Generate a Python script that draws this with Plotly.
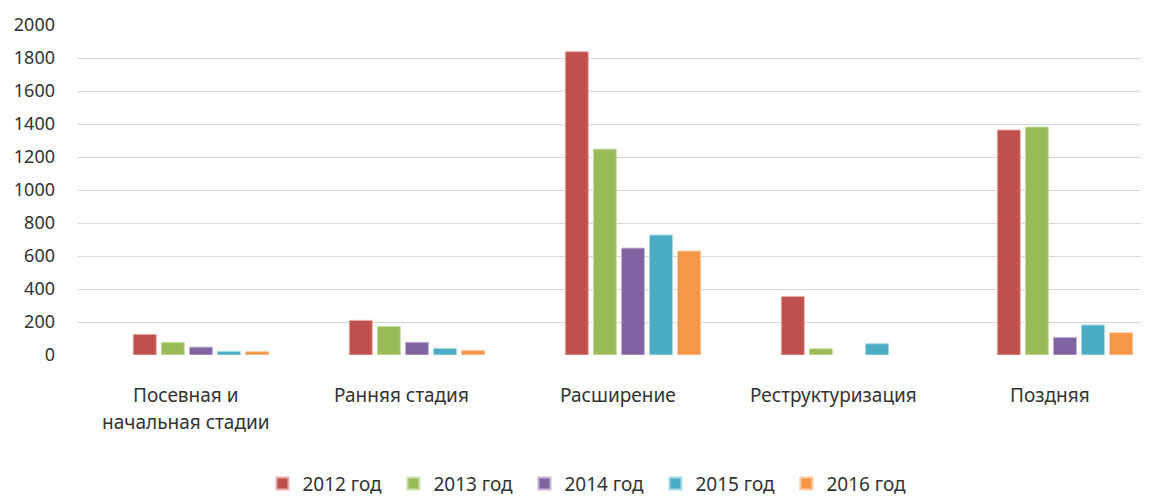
import plotly.graph_objects as go

categories = ["Посевная и\nначальная стадии", "Ранняя стадия", "Расширение", "Реструктуризация", "Поздняя"]
years = ["2012 год", "2013 год", "2014 год", "2015 год", "2016 год"]
v2012 = [125, 210, 1838, 355, 1364]
v2013 = [77, 174, 1248, 38, 1382]
v2014 = [48, 77, 648, None, 107]
v2015 = [22, 40, 727, 68, 182]
v2016 = [20, 28, 630, None, 135]
y_ticks = [0, 200, 400, 600, 800, 1000, 1200, 1400, 1600, 1800, 2000]

series = [v2012, v2013, v2014, v2015, v2016]
colors = ["#C0504D", "#9BBB59", "#8064A2", "#4BACC6", "#F79646"]
edges = ["#E8AEAC", "#CFE0AE", "#C3B5D6", "#A9DAE6", "#FBCBA5"]

x_idx = list(range(len(categories)))

fig = go.Figure()
for name, vals, c, e in zip(years, series, colors, edges):
    fig.add_trace(go.Bar(x=x_idx, y=vals, name=name,
                         marker=dict(color=c, line=dict(color=e, width=1))))

font_family = "Noto Sans, Open Sans, sans-serif"
annotations = []
for i, cat in enumerate(categories):
    for j, line in enumerate(cat.split("\n")):
        annotations.append(dict(x=i, y=0, xref="x", yref="y", text=line, showarrow=False,
                                xshift=-15, yshift=-40 - 27 * j, yanchor="middle",
                                font=dict(family=font_family, size=19, color="#333333")))

fig.update_layout(
    width=1141, height=489,
    margin=dict(l=70, r=0, t=17, b=142, autoexpand=False),
    paper_bgcolor="white", plot_bgcolor="white",
    barmode="group", bargap=0.35, bargroupgap=0.18,
    font=dict(family=font_family, size=18, color="#333333"),
    xaxis=dict(range=[-0.569, 4.389], showticklabels=False, showgrid=False,
               zeroline=False, showline=False, fixedrange=True, automargin=False),
    yaxis=dict(range=[0, 2000], tickvals=y_ticks, showgrid=True, gridcolor="#D9D9D9",
               gridwidth=1, zeroline=False, showline=False, ticks="",
               ticklabelstandoff=22, automargin=False,
               tickfont=dict(family=font_family, size=18, color="#333333")),
    legend=dict(orientation="h", x=0.478, xanchor="center", y=-0.39, yanchor="middle",
                font=dict(family=font_family, size=19, color="#333333"),
                entrywidth=86, entrywidthmode="pixels", itemsizing="constant"),
    annotations=annotations,
)

fig.write_html("out.html")
